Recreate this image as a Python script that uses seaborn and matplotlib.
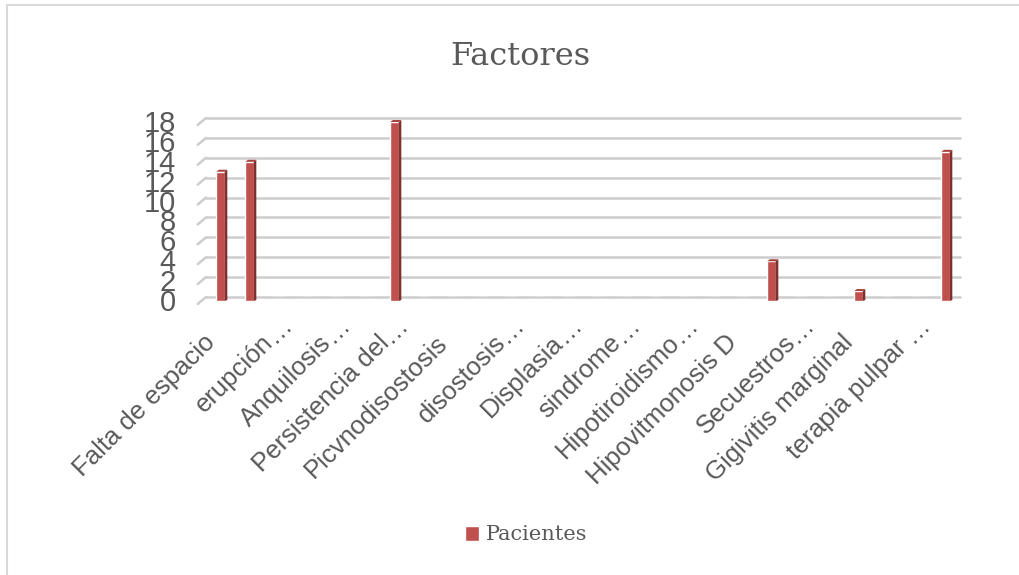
import numpy as np
import pandas as pd
import seaborn as sns
import matplotlib
matplotlib.use("Agg")
import matplotlib.pyplot as plt
from matplotlib.lines import Line2D
from matplotlib.patches import Polygon
from matplotlib.transforms import ScaledTranslation

# Factor labels (shown on every second category slot)
labels = [
    "Falta de espacio", "erupción…", "Anquilosis…", "Persistencia del…",
    "Picvnodisostosis", "disostosis…", "Displasia…", "sindrome…",
    "Hipotiroidismo…", "Hipovitmonosis D", "Secuestros…", "Gigivitis marginal",
    "terapia pulpar …",
]
# Patient counts for each of the 26 category slots
slots = list(range(26))
pacientes = [13, 14, 0, 0, 0, 0, 18, 0, 0, 0, 0, 0, 0,
             0, 0, 0, 0, 0, 0, 4, 0, 0, 1, 0, 0, 15]
series_name = "Pacientes"
y_ticks = [0, 2, 4, 6, 8, 10, 12, 14, 16, 18]

FRONT = "#C0504D"
SIDE = "#7F2F2D"
TOP = "#A4413E"
TEXT = "#595959"
GRID = "#CDCDCD"

sns.set_style("white")
plt.rcParams["font.family"] = ["Liberation Sans", "DejaVu Sans"]

fig = plt.figure(figsize=(10.19, 5.75), dpi=100)
W, H = 1019, 575
ax = fig.add_axes([206 / W, 1 - 297 / H, (960 - 206) / W, (297 - 118) / H])

df = pd.DataFrame({"slot": slots, "value": pacientes, "serie": series_name})
sns.barplot(data=df, x="slot", y="value", hue="serie", palette=[FRONT],
            width=0.29, saturation=1, ax=ax, zorder=3)

ax.set_xlim(-0.5, len(slots) - 0.5)
ax.set_ylim(0, 18)
ax.set_yticks(y_ticks)
ax.set_yticklabels([])
ax.set_xticks([])
ax.set_xlabel("")
ax.set_ylabel("")
for s in ax.spines.values():
    s.set_visible(False)
ax.tick_params(length=0)
ax.yaxis.grid(True, color=GRID, linewidth=1.8, zorder=0)
for gl in ax.get_ygridlines():
    gl.set_clip_on(False)
ax.set_axisbelow(True)

# 3D-style side and top faces for each bar, the whole block set slightly forward
drop = ScaledTranslation(0, -4 / 100, fig.dpi_scale_trans)
dx, dy = 0.09, 0.2
for p in list(ax.patches):
    h = p.get_height()
    if h <= 0:
        continue
    p.set_transform(ax.transData + drop)
    p.set_clip_on(False)
    x0 = p.get_x()
    x1 = x0 + p.get_width()
    for verts, col in (
        ([(x1, 0), (x1, h), (x1 + dx, h + dy), (x1 + dx, dy * 0.5)], SIDE),
        ([(x0, h), (x0 + dx, h + dy), (x1 + dx, h + dy), (x1, h)], TOP),
    ):
        ax.add_patch(Polygon(verts, closed=True, facecolor=col, edgecolor="none",
                             zorder=4, transform=ax.transData + drop, clip_on=False))

# slanted floor edges on the left of each gridline, with the value labels
ytr = ax.get_yaxis_transform()
for v in y_ticks:
    ax.add_line(Line2D([-0.011, 0], [v - 0.7, v], transform=ytr, color=GRID,
                       linewidth=1.8, clip_on=False))
    ax.text(-0.04, v, str(v), transform=ytr + ScaledTranslation(0, -6 / 100, fig.dpi_scale_trans),
            ha="right", va="center", fontsize=21, color=TEXT)

# rotated category labels; a trailing ellipsis hangs past the anchor
xtr = ax.get_xaxis_transform() + ScaledTranslation(-4 / 100, -47 / 100, fig.dpi_scale_trans)
for i, lab in enumerate(labels):
    pos = slots[2 * i]
    if lab.endswith("…"):
        base, tail = lab[:-1], "…"
    else:
        base, tail = lab, ""
    ax.text(pos, 0, base, transform=xtr, rotation=45, rotation_mode="anchor",
            ha="right", va="baseline", fontsize=18.5, color=TEXT)
    if tail:
        ax.text(pos, 0, tail, transform=xtr, rotation=45, rotation_mode="anchor",
                ha="left", va="baseline", fontsize=18.5, color=TEXT)

# legend below the plot
sns.move_legend(ax, loc="center", bbox_to_anchor=(526 / W, 1 - 535 / H),
                bbox_transform=fig.transFigure, title=None, frameon=False,
                handlelength=0.7, handleheight=0.7, handletextpad=0.3,
                prop={"family": "DejaVu Serif", "size": 15})
for t in ax.get_legend().get_texts():
    t.set_color(TEXT)

fig.text(520 / W, 1 - 65 / H, "Factores", ha="center", va="baseline",
         family="DejaVu Serif", fontsize=23, color=TEXT)

# chart area frame
fig.add_artist(Line2D([7 / W, 1.0], [1 - 5 / H, 1 - 5 / H], transform=fig.transFigure,
                      color="#D9D9D9", linewidth=1.5))
fig.add_artist(Line2D([7 / W, 7 / W], [0, 1 - 5 / H], transform=fig.transFigure,
                      color="#D9D9D9", linewidth=1.5))

fig.savefig("out.png", dpi=100, facecolor="white")
